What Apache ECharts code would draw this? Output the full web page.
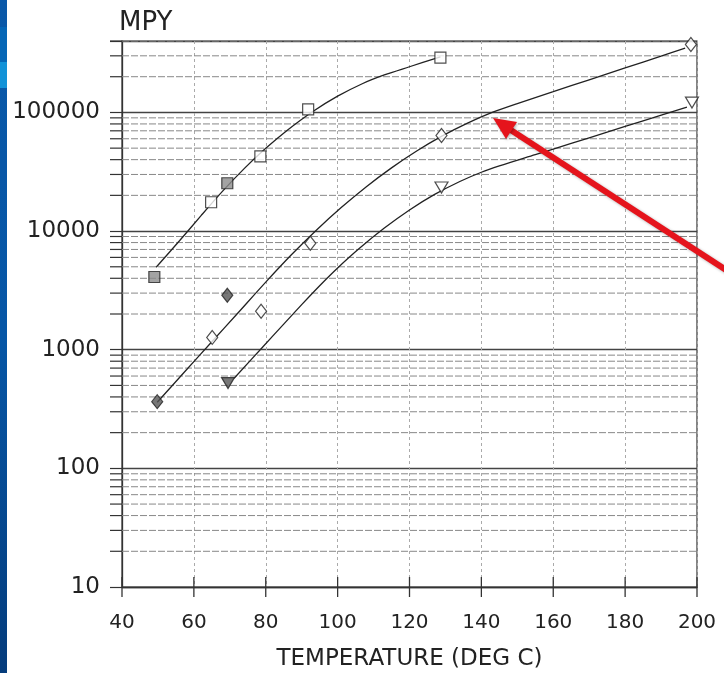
<!DOCTYPE html>
<html><head><meta charset="utf-8">
<script src="https://cdn.jsdelivr.net/npm/echarts@6/dist/echarts.min.js"></script>
<style>html,body{margin:0;padding:0;background:#fff}#c{width:724px;height:673px}</style>
</head><body><div id="c"></div>
<script>
// ---- axis ticks ----
const xTicks = [40, 60, 80, 100, 120, 140, 160, 180, 200];
const yDecades = [10, 100, 1000, 10000, 100000];
const yMinor = [20, 30, 40, 50, 60, 70, 80, 90,
  200, 300, 400, 500, 600, 700, 800, 900,
  2000, 3000, 4000, 5000, 6000, 7000, 8000, 9000,
  20000, 30000, 40000, 50000, 60000, 70000, 80000, 90000,
  200000, 300000, 400000];

// ---- measured points ----
const squareTemp = [49, 64.8, 69.3, 78.5, 91.8, 128.6];
const squareMpy = [4100, 17500, 25300, 42700, 106000, 290000];
const squareFilled = [true, false, true, false, false, false];

const diamondTemp = [49.8, 65.1, 69.3, 78.7, 92.4, 128.9, 198.3];
const diamondMpy = [365, 1270, 2880, 2110, 7900, 64000, 374000];
const diamondFilled = [true, false, true, false, false, false, false];

const triangleTemp = [69.5, 128.9, 198.6];
const triangleMpy = [523, 23300, 121000];
const triangleFilled = [true, false, false];

// ---- fitted curves ----
const squareCurveTemp = [49.5, 56, 62, 68, 74, 80, 86, 93, 100, 107, 113, 120, 128.6];
const squareCurveMpy = [4950, 8280, 13500, 21700, 33600, 49800, 70800, 101400, 137100, 175400, 207000, 242700, 294400];

const diamondCurveTemp = [49.8, 57, 65, 72, 80, 87, 94, 101, 108, 115, 122, 129, 136, 143, 150, 160, 170, 180, 190, 196.7];
const diamondCurveMpy = [361, 630, 1167, 2000, 3715, 6250, 10120, 15770, 23650, 34080, 47270, 63100, 80900, 100000, 118900, 149600, 188400, 237100, 298500, 348300];

const triangleCurveTemp = [71.2, 79.1, 85, 90, 95, 100, 106, 113, 120, 127, 134, 140, 145, 155, 165, 175, 185, 197.2];
const triangleCurveMpy = [575, 1050, 1644, 2400, 3465, 4890, 7130, 10600, 15070, 20370, 26190, 31330, 35400, 44060, 54830, 68230, 84920, 110900];

const FONT = 'DejaVu Sans';
const INK = '#222';

function pairs(xs, ys) { return xs.map((x, i) => [x, ys[i]]); }
function pts(xs, ys, filled, fill) {
  return xs.map((x, i) => ({ value: [x, ys[i]], itemStyle: { color: filled[i] ? fill : '#fff' } }));
}
function curve(name, xs, ys) {
  return { name, type: 'line', data: pairs(xs, ys), smooth: 0.3, showSymbol: false, symbol: 'none',
    lineStyle: { color: INK, width: 1.3 }, z: 3, silent: true, clip: false };
}
function marks(name, xs, ys, filled, symbol, size, rotate, fill) {
  return { name, type: 'scatter', data: pts(xs, ys, filled, fill), symbol, symbolSize: size,
    symbolRotate: rotate, itemStyle: { borderColor: INK, borderWidth: 1.2 }, z: 4, clip: false };
}

const chart = echarts.init(document.getElementById('c'), null, { renderer: 'canvas' });
chart.setOption({
  animation: false,
  backgroundColor: '#fff',
  title: { text: 'MPY', left: 114, top: 5,
    textStyle: { fontFamily: FONT, fontSize: 26, fontWeight: 'normal', color: INK } },
  grid: { left: 122, right: 27, top: 41, bottom: 86, show: true, borderColor: '#333', borderWidth: 1.2,
    containLabel: false, outerBoundsMode: 'none' },
  xAxis: {
    type: 'value', min: 40, max: 200, interval: 20, position: 'bottom',
    name: 'TEMPERATURE (DEG C)', nameLocation: 'middle', nameGap: 61, nameMoveOverlap: false,
    nameTextStyle: { fontFamily: FONT, fontSize: 23, color: INK },
    axisLine: { onZero: false, lineStyle: { color: '#333', width: 1.3 } },
    axisTick: { show: false },
    axisLabel: { fontFamily: FONT, fontSize: 20, color: INK, margin: 26,
      formatter: v => xTicks.includes(Math.round(v)) ? String(Math.round(v)) : '' },
    splitLine: { show: true, lineStyle: { color: '#aaa', width: 1, type: [3, 3] } }
  },
  yAxis: {
    type: 'log', logBase: 10, min: 10, max: 400000,
    axisLine: { onZero: false, lineStyle: { color: '#333', width: 1.3 } },
    axisTick: { show: true, length: 12, lineStyle: { color: '#333', width: 1.2 } },
    axisLabel: { fontFamily: FONT, fontSize: 23, color: INK, margin: 22,
      formatter: v => {
        const r = yDecades.find(d => Math.abs(d - v) / d < 1e-6);
        return r ? String(r) : '';
      } },
    splitLine: { show: true, lineStyle: { color: '#444', width: 1.3 } }
  },
  graphic: [
    { type: 'rect', shape: { x: 0, y: 0, width: 7, height: 673 }, z: 100,
      style: { fill: new echarts.graphic.LinearGradient(0, 0, 0, 1, [
        { offset: 0, color: '#0a58a8' }, { offset: 0.5, color: '#0656a6' }, { offset: 1, color: '#053c7c' }]) } },
    { type: 'rect', shape: { x: 0, y: 27, width: 7, height: 35 }, z: 101, style: { fill: '#0566b6' } },
    { type: 'rect', shape: { x: 0, y: 62, width: 7, height: 26 }, z: 101, style: { fill: '#1192d8' } },
    { type: 'polyline', z: 110, shape: { points: [[740, 279], [510, 129.5]] },
      style: { stroke: '#e5141c', lineWidth: 6, shadowBlur: 3, shadowColor: 'rgba(0,0,0,0.3)', shadowOffsetX: 1, shadowOffsetY: 1 } },
    { type: 'polygon', z: 111, shape: { points: [[493, 118], [517, 122], [506, 139]] },
      style: { fill: '#e5141c', shadowBlur: 3, shadowColor: 'rgba(0,0,0,0.3)', shadowOffsetX: 1, shadowOffsetY: 1 } }
  ],
  series: [
    {
      type: 'custom', silent: true, clip: false, z: 1,
      data: yMinor.map(v => [40, v]),
      encode: { x: 0, y: 1 },
      renderItem: (params, api) => {
        const v = api.value(1);
        const p0 = api.coord([40, v]);
        const p1 = api.coord([200, v]);
        return { type: 'group', children: [
          { type: 'line', shape: { x1: p0[0] - 12, y1: p0[1], x2: p0[0], y2: p0[1] }, style: { stroke: '#333', lineWidth: 1.2 } },
          { type: 'line', shape: { x1: p0[0], y1: p0[1], x2: p1[0], y2: p1[1] }, style: { stroke: '#888', lineWidth: 1, lineDash: [7, 2] } }
        ] };
      }
    },
    {
      type: 'custom', silent: true, clip: false, z: 2,
      data: xTicks.map(t => [t, 10]),
      encode: { x: 0, y: 1 },
      renderItem: (params, api) => {
        const p = api.coord([api.value(0), 10]);
        return { type: 'line', shape: { x1: p[0], y1: p[1] - 10, x2: p[0], y2: p[1] + 10 },
          style: { stroke: '#333', lineWidth: 1.3 } };
      }
    },
    curve('squareCurve', squareCurveTemp, squareCurveMpy),
    curve('diamondCurve', diamondCurveTemp, diamondCurveMpy),
    curve('triangleCurve', triangleCurveTemp, triangleCurveMpy),
    marks('square', squareTemp, squareMpy, squareFilled, 'rect', 11, 0, '#8c8c8c'),
    marks('diamond', diamondTemp, diamondMpy, diamondFilled, 'diamond', [11, 14], 0, '#555'),
    marks('triangle', triangleTemp, triangleMpy, triangleFilled, 'triangle', [13, 11], 180, '#555')
  ]
});
</script></body></html>
